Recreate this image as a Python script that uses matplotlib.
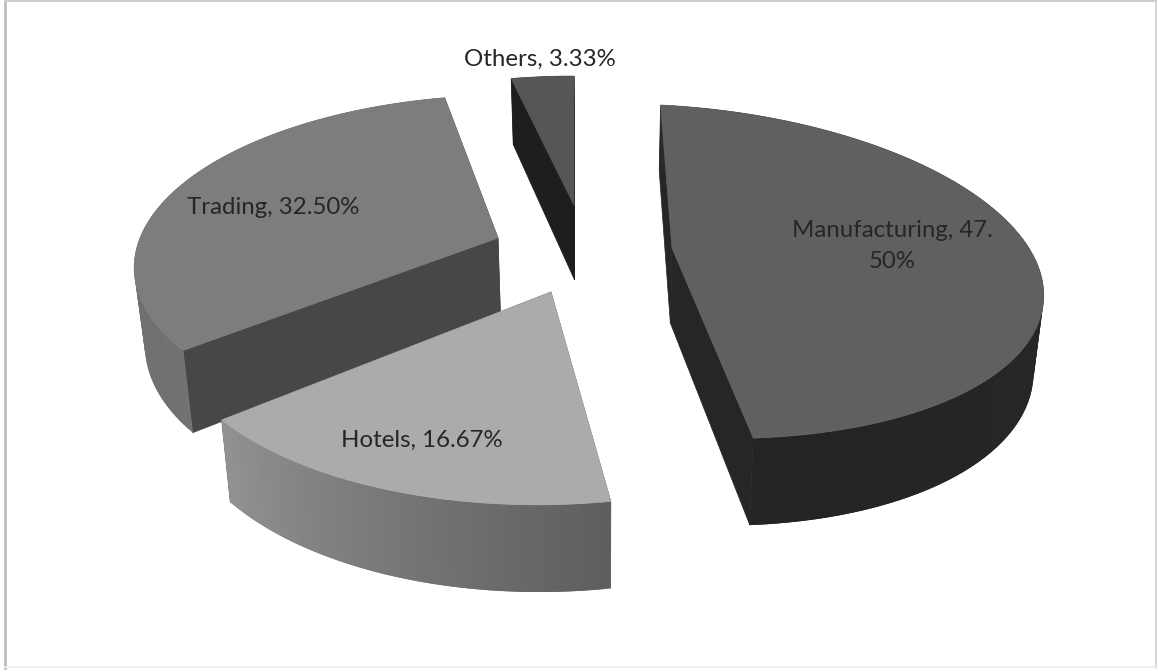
import matplotlib
matplotlib.use("Agg")
import matplotlib.pyplot as plt
import numpy as np

categories = ["Manufacturing", "Hotels", "Trading", "Others"]
values = [47.50, 16.67, 32.50, 3.33]
labels = ["Manufacturing, 47.\n50%", "Hotels, 16.67%", "Trading, 32.50%", "Others, 3.33%"]

# apex pixel and projection of the disc for each slice (a, b, c, d)
apex = [(672, 248), (551, 292), (498, 238), (574, 205)]
proj = [(366, -13, 163, -18), (380, 8, 183, 2), (358, 14, 163, 0), (344, 0, 147, 0)]
persp = 0.14
depth = 75
# the bottom of the pie is a bit narrower than its top
shrink = 0.977
shrink_x = 600

top_colors = ["#606060", "#ababab", "#7d7d7d", "#565656"]
cut_colors = ["#262626", "#5a5a5a", "#474747", "#1e1e1e"]
# wall grey at the start and at the end of each slice
wall_colors = [(0x2a, 0x24), (0x5e, 0x92), (0x72, 0x6a), (0x1e, 0x1e)]
label_pos = [(892, 246), (422, 440), (273, 207), (540, 59)]


def project(i, theta):
    a, b, c, d = proj[i]
    u, v = np.sin(theta), np.cos(theta)
    f = 1 / (1 + persp * v)
    return apex[i][0] + (a * u + b * v) * f, apex[i][1] - (c * v + d * u) * f, depth * f


def lower(x):
    return shrink_x + (x - shrink_x) * shrink


fig = plt.figure(figsize=(11.58, 6.72), dpi=100)
ax = fig.add_axes([0, 0, 1, 1])
ax.set_xlim(0, 1158)
ax.set_ylim(672, 0)
ax.axis("off")

# grey frame of the picture
ax.plot([5, 5], [1, 668], color="#bdbdbd", lw=2)
ax.plot([5, 1156], [1, 1], color="#cfcfcf", lw=1.5)
ax.plot([1156, 1156], [1, 668], color="#cfcfcf", lw=1.2)
ax.plot([5, 1156], [667, 667], color="#ececec", lw=1.2)

edges = np.concatenate([[0], np.cumsum(values)]) / np.sum(values) * 2 * np.pi

for i in [1, 2, 0, 3]:
    th = np.linspace(edges[i], edges[i + 1], 90)
    x, y, dz = project(i, th)
    px, py = apex[i]

    # cut faces along both straight edges
    for k in [-1, 0]:
        ax.fill([px, x[k], lower(x[k]), lower(px)], [py, y[k], y[k] + dz[k], py + depth],
                color=cut_colors[i], lw=0.5, zorder=2 + i * 0.1)

    # outer wall as thin strips for the shading, each one lies over the next
    for k in range(len(th) - 1):
        g = wall_colors[i][0] + (wall_colors[i][1] - wall_colors[i][0]) * k / (len(th) - 2)
        g = g / 255
        n = min(k + 2, len(th) - 1)
        xs = np.r_[x[k:n + 1], lower(x[k:n + 1])[::-1]]
        ys = np.r_[y[k:n + 1], (y[k:n + 1] + dz[k:n + 1])[::-1]]
        ax.fill(xs, ys, color=(g, g, g), lw=0, zorder=3 + i * 0.1)

    ax.fill(np.r_[px, x], np.r_[py, y], color=top_colors[i], lw=0.5, zorder=4 + i * 0.1)

for i in range(len(labels)):
    ax.text(label_pos[i][0], label_pos[i][1], labels[i], ha="center", va="center",
            family="Lato", fontsize=17.3, color="#262626", zorder=6, linespacing=1.55)

fig.savefig("out.png", dpi=100)
